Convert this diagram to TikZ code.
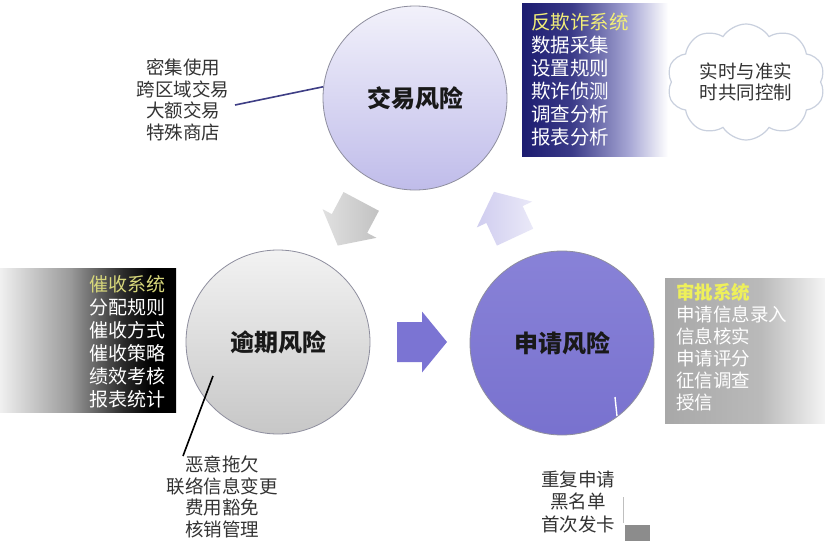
\documentclass[tikz,border=0pt]{standalone}
\usepackage{fontspec}
\setmainfont{Noto Sans CJK SC}
\usetikzlibrary{shapes.symbols}
\definecolor{navyc}{HTML}{1C1C70}
\definecolor{navyb}{HTML}{3A3A88}
\definecolor{navyd}{HTML}{A9A9D6}
\definecolor{yel}{HTML}{F2EE78}
\definecolor{yelb}{HTML}{EEF05A}
\definecolor{yelc}{HTML}{D6D67A}
\definecolor{gA}{HTML}{A8A8A8}
\definecolor{gB}{HTML}{BABABA}
\definecolor{gC}{HTML}{F4F4F4}
\definecolor{kA}{HTML}{F0F0F0}
\definecolor{kB}{HTML}{9A9A9A}
\definecolor{kC}{HTML}{2A2A2A}
\definecolor{txt}{HTML}{333333}
\definecolor{cloudc}{HTML}{C9D0DE}
\definecolor{rim}{HTML}{8E8E9E}
\definecolor{purp}{HTML}{7B74D3}
\pgfdeclarehorizontalshading{navyfade}{100bp}{color(0bp)=(navyc); color(25bp)=(navyc); color(42bp)=(navyb); color(62bp)=(navyd); color(75bp)=(white); color(100bp)=(white)}
\pgfdeclarehorizontalshading{grayfade}{100bp}{color(0bp)=(gA); color(25bp)=(gA); color(55bp)=(gB); color(75bp)=(gC); color(100bp)=(gC)}
\pgfdeclarehorizontalshading{blackfade}{100bp}{color(0bp)=(kA); color(25bp)=(kA); color(45bp)=(kB); color(60bp)=(kC); color(68bp)=(black); color(100bp)=(black)}
\tikzset{
  risk/.style={circle, minimum size=184pt, draw=rim, line width=0.8pt, font=\fontsize{24}{28}\selectfont\bfseries, text=black!90},
  sidetxt/.style={align=center, text=txt, font=\fontsize{18.5}{21.7}\selectfont, inner sep=1pt},
  boxtxt/.style={text=white, font=\fontsize{19}{23}\selectfont, inner sep=0pt},
}
\newcommand{\blockarrowpath}{(-25,-20) -- (0,-20) -- (0,-30.5) -- (25,0) -- (0,30.5) -- (0,20) -- (-25,20) -- cycle}
\begin{document}
\begin{tikzpicture}[x=1pt,y=-1pt]
\useasboundingbox (0,0) rectangle (825,541);
\fill[white] (0,0) rectangle (825,541);

% boxes
\shade[shading=navyfade] (522,3) rectangle (668,156);
\node[boxtxt, align=left, anchor=west, font=\fontsize{19.5}{23}\selectfont] (fz) at (531,80)
  {\textcolor{yel}{反欺诈系统}\\数据采集\\设置规则\\欺诈侦测\\调查分析\\报表分析};

\shade[shading=grayfade] (665,278) rectangle (825,423);
\node[boxtxt, align=left, anchor=west, font=\fontsize{18.5}{22}\selectfont] (sp) at (676,347)
  {\textcolor{yelb}{\bfseries 审批系统}\\申请信息录入\\信息核实\\申请评分\\征信调查\\授信};

\shade[shading=blackfade] (0,268) rectangle (176,412);
\node[boxtxt, align=right, anchor=east, font=\fontsize{19}{23}\selectfont] (cs) at (166,342)
  {\textcolor{yelc}{催收系统}\\分配规则\\催收方式\\催收策略\\绩效考核\\报表统计};

% cloud
\node[cloud, cloud puffs=10, cloud puff arc=115, aspect=1.45, draw=cloudc, line width=1.2pt,
      fill=white, minimum width=158pt, minimum height=116pt, inner sep=0pt, align=center,
      text=txt, font=\fontsize{18.5}{21}\selectfont] (cl) at (746,82) {实时与准实\\时共同控制};

% circles
\node[risk, top color=white!90!purp, bottom color=white!52!purp] (tr) at (415,98) {交易风险};
\node[risk, top color=white!95!black, bottom color=white!78!black] (lr) at (278,342) {逾期风险};
\node[risk, top color=purp!90!white, bottom color=purp!98!black] (ar) at (562,343) {申请风险};

% block arrows
\begin{scope}[shift={(422,342)}]
  \fill[purp] \blockarrowpath;
\end{scope}
\begin{scope}[shift={(349.5,223.5)}, rotate=242]
  \shade[left color=white!88!black, right color=white!76!black] \blockarrowpath;
\end{scope}
\begin{scope}[shift={(504.5,214.5)}, rotate=115]
  \shade[left color=white!64!purp, right color=white!84!purp] \blockarrowpath;
\end{scope}

% side texts
\node[sidetxt] (trtxt) at (183,100) {密集使用\\跨区域交易\\大额交易\\特殊商店};
\node[sidetxt] (lrtxt) at (222,497) {恶意拖欠\\联络信息变更\\费用豁免\\核销管理};
\node[sidetxt, font=\fontsize{18.5}{22.5}\selectfont] (artxt) at (578,502) {重复申请\\黑名单\\首次发卡};

% pointer lines
\coordinate (trp) at (235,105);
\draw[navyc!85, line width=1.6pt] (trp) -- (tr.173);
\coordinate (lp1) at (213,376);
\coordinate (lp2) at (183,456);
\draw[black, line width=1.6pt] (lp1) -- (lp2);
\coordinate (ap1) at (615,397);
\coordinate (ap2) at (617,416);
\draw[white, line width=1.4pt] (ap1) -- (ap2);

% small marks at bottom right
\coordinate (m1) at (623,497);
\coordinate (m2) at (623,523);
\draw[black!25, line width=1pt] (m1) -- (m2);
\fill[black!45] (625,525) rectangle (650,541);
\end{tikzpicture}
\end{document}
